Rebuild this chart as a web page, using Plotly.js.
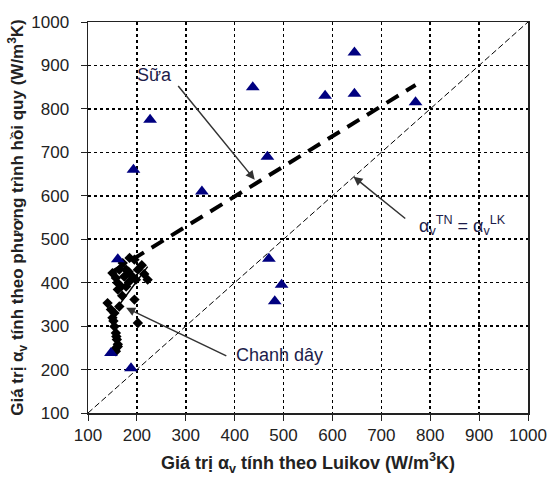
<!DOCTYPE html>
<html>
<head>
<meta charset="utf-8">
<script src="https://cdn.plot.ly/plotly-3.0.1.min.js"></script>
<style>html,body{margin:0;padding:0;background:#fff;}#chart{width:547px;height:484px;}</style>
</head>
<body>
<div id="chart"></div>
<script>
// Milk (Sữa) measurements – triangles
const milkX = [645, 437, 585, 645, 770, 227, 193, 467, 333, 470, 496, 482, 161, 147, 188];
const milkY = [930, 850, 830, 835, 815, 775, 660, 690, 610, 455, 395, 357, 454, 238, 203];

// Passion fruit (Chanh dây) measurements – diamonds
const passionX = [164, 178, 195, 202, 191, 157, 168, 161, 222, 198, 178, 140, 164, 195, 202, 150, 154, 157, 159, 161, 157, 171, 185, 150, 174, 185, 147, 154, 152, 158, 161, 156, 210, 215, 170, 160, 183];
const passionY = [430, 430, 453, 430, 414, 411, 391, 384, 407, 407, 391, 353, 345, 361, 307, 319, 299, 284, 269, 253, 242, 445, 457, 422, 414, 403, 338, 330, 312, 276, 258, 248, 440, 420, 370, 400, 425];

// Regression line for milk (thick dashed)
const milkTrendX = [150, 770];
const milkTrendY = [425, 855];

// Regression line for passion fruit (thin solid)
const passionTrendX = [158, 222];
const passionTrendY = [340, 437];

// Equality line
const eqX = [100, 1000];
const eqY = [100, 1000];

const ticks = [100, 200, 300, 400, 500, 600, 700, 800, 900, 1000];

const traces = [
  {x: eqX, y: eqY, mode: 'lines', line: {color: '#000', width: 1, dash: '6px,3px'}, hoverinfo: 'skip'},
  {x: passionTrendX, y: passionTrendY, mode: 'lines', line: {color: '#000', width: 1.5}, hoverinfo: 'skip'},
  {x: passionX, y: passionY, mode: 'markers', marker: {symbol: 'diamond', size: 8, color: '#000'}},
  {x: milkTrendX, y: milkTrendY, mode: 'lines', line: {color: '#000', width: 4, dash: '14px,9px'}, hoverinfo: 'skip'},
  {x: milkX, y: milkY, mode: 'markers', marker: {symbol: 'triangle-up', size: 12, color: '#000080'}}
];

const fam = 'Liberation Sans, Arial, sans-serif';
const annColor = '#1c1c4a';

const axisCommon = {
  range: [100, 1000], tickvals: ticks, ticktext: ticks.map(String),
  showgrid: true, gridcolor: '#000', gridwidth: 1.5, griddash: 'dot',
  showline: true, linecolor: '#222', linewidth: 1.5, mirror: true,
  ticks: 'outside', ticklen: 6, tickcolor: '#222',
  zeroline: false,
  ticklabeloverflow: 'allow',
  tickfont: {size: 17, family: fam, color: '#222'}
};

const layout = {
  width: 547, height: 484,
  margin: {l: 88, r: 19, t: 22, b: 71},
  paper_bgcolor: '#fff', plot_bgcolor: '#fff',
  showlegend: false,
  font: {family: fam, color: '#222'},
  xaxis: Object.assign({}, axisCommon, {
    title: {text: '<b>Giá trị α<sub>v</sub> tính theo Luikov (W/m<sup>3</sup>K)</b>', font: {size: 18, family: fam, color: '#222'}, standoff: 12}
  }),
  yaxis: Object.assign({}, axisCommon, {
    ticklabelstandoff: 8,
    title: {text: '<b>Giá trị α<sub>v</sub> tính theo phương trình hồi quy (W/m<sup>3</sup>K)</b>', font: {size: 17, family: fam, color: '#222'}, standoff: 3}
  }),
  annotations: [
    {x: 441, y: 637, ax: 282, ay: 856, xref: 'x', yref: 'y', axref: 'x', ayref: 'y', text: '', showarrow: true, arrowhead: 2, arrowsize: 1.2, arrowwidth: 1.5, arrowcolor: '#333'},
    {x: 236, y: 879, xref: 'x', yref: 'y', text: 'Sữa', showarrow: false, font: {size: 18, family: fam, color: annColor}},
    {x: 643, y: 644, ax: 752, ay: 545, xref: 'x', yref: 'y', axref: 'x', ayref: 'y', text: '', showarrow: true, arrowhead: 2, arrowsize: 1.2, arrowwidth: 1.5, arrowcolor: '#333'},
    {x: 866, y: 531, xref: 'x', yref: 'y', text: 'α<sub>v</sub><sup>TN</sup> = α<sub>v</sub><sup>LK</sup>', showarrow: false, font: {size: 18, family: fam, color: annColor}},
    {x: 178, y: 342, ax: 386, ay: 230, xref: 'x', yref: 'y', axref: 'x', ayref: 'y', text: '', showarrow: true, arrowhead: 2, arrowsize: 1.2, arrowwidth: 1.5, arrowcolor: '#333'},
    {x: 492, y: 234, xref: 'x', yref: 'y', text: 'Chanh dây', showarrow: false, font: {size: 18, family: fam, color: annColor}}
  ]
};

Plotly.newPlot('chart', traces, layout, {staticPlot: true, displayModeBar: false});
</script>
</body>
</html>
